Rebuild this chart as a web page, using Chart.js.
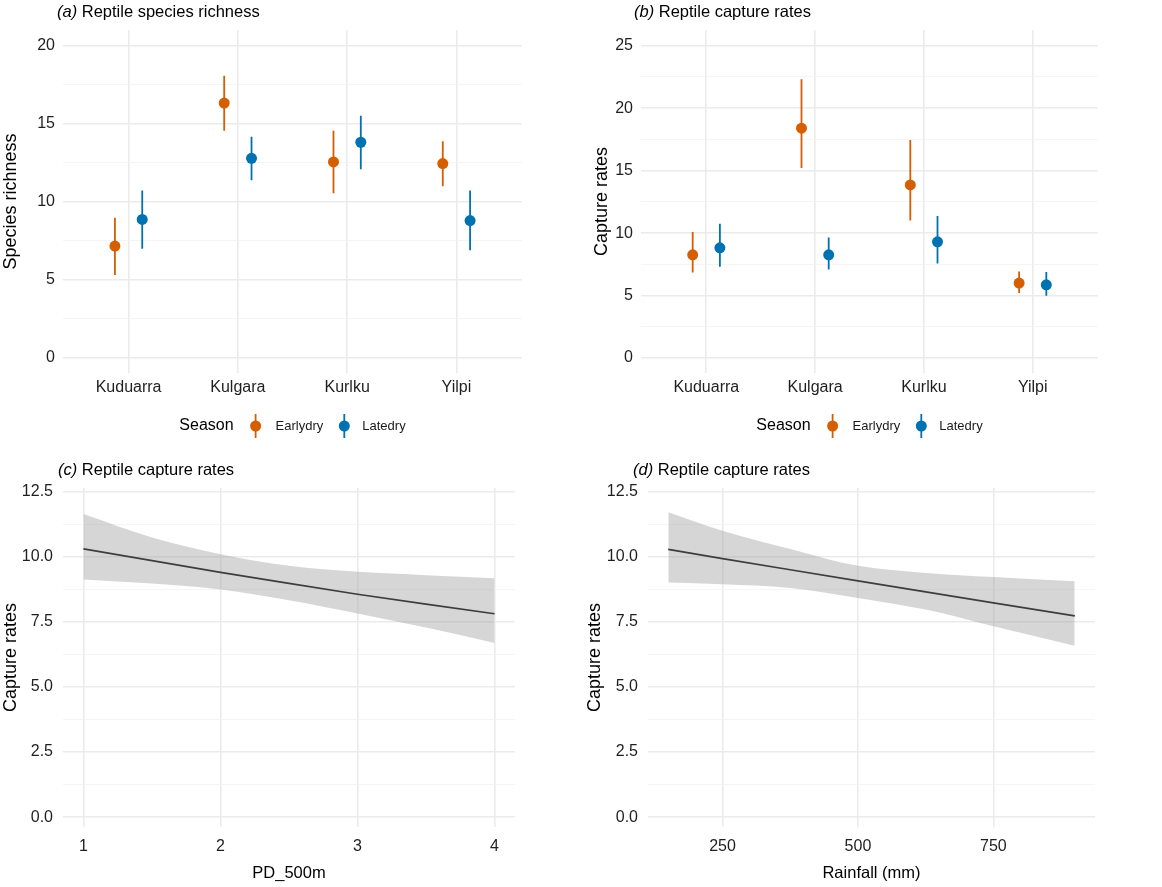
<!DOCTYPE html>
<html>
<head>
<meta charset="utf-8">
<script src="https://cdn.jsdelivr.net/npm/chart.js@4.4.1/dist/chart.umd.min.js"></script>
<style>
  body { margin: 0; background: #fff; }
  #wrap { position: relative; width: 1162px; height: 887px; }
  canvas { position: absolute; }
</style>
</head>
<body>
<div id="wrap">
  <canvas id="chartA" width="580" height="445" style="left:0;top:0"></canvas>
  <canvas id="chartB" width="582" height="445" style="left:580px;top:0"></canvas>
  <canvas id="chartC" width="580" height="442" style="left:0;top:445px"></canvas>
  <canvas id="chartD" width="582" height="442" style="left:580px;top:445px"></canvas>
</div>
<script>
const sites = ['Kuduarra', 'Kulgara', 'Kurlku', 'Yilpi'];
const seasons = ['Earlydry', 'Latedry'];

// (a) species richness, mean and interval
const richEarly = [7.14, 16.31, 12.54, 12.43];
const richEarlyLo = [5.29, 14.54, 10.53, 10.98];
const richEarlyHi = [8.96, 18.06, 14.54, 13.86];
const richLate = [8.85, 12.77, 13.8, 8.78];
const richLateLo = [6.97, 11.36, 12.07, 6.88];
const richLateHi = [10.7, 14.16, 15.5, 10.7];

// (b) capture rates, mean and interval
const capEarly = [8.26, 18.4, 13.86, 6.0];
const capEarlyLo = [6.85, 15.22, 11.0, 5.2];
const capEarlyHi = [10.08, 22.32, 17.46, 6.93];
const capLate = [8.82, 8.26, 9.3, 5.86];
const capLateLo = [7.3, 7.09, 7.57, 4.98];
const capLateHi = [10.74, 9.65, 11.36, 6.88];

// (c) capture rates vs PD_500m
const pdX = [1, 1.5, 2, 2.5, 3, 3.5, 4];
const pdFit = [10.30, 9.85, 9.40, 8.98, 8.56, 8.18, 7.81];
const pdUpper = [11.64, 10.74, 10.10, 9.65, 9.42, 9.29, 9.17];
const pdLower = [9.13, 8.97, 8.74, 8.33, 7.82, 7.28, 6.69];

// (d) capture rates vs rainfall
const rainX = [150, 250, 375, 500, 625, 750, 900];
const rainFit = [10.28, 9.93, 9.50, 9.07, 8.65, 8.23, 7.73];
const rainUpper = [11.71, 11.0, 10.3, 9.65, 9.38, 9.22, 9.06];
const rainLower = [9.01, 8.94, 8.8, 8.42, 7.97, 7.33, 6.58];

const FONT = "'Liberation Sans', Arial, sans-serif";
const ORANGE = '#D55E00';
const BLUE = '#0072B2';
const TICK = '#1f1f1f';
const GRID = '#ebebeb';
const GRID_MINOR = '#f2f2f2';
const DODGE = 0.125;

function isMajor(v, step) {
    return Math.abs(v / step - Math.round(v / step)) < 1e-6;
}

function titlePlugin(letter, text, x, y) {
    return {
        id: 'panelTitle',
        afterDraw(chart) {
            const ctx = chart.ctx;
            ctx.save();
            ctx.fillStyle = '#000';
            ctx.textBaseline = 'middle';
            ctx.textAlign = 'left';
            ctx.font = `italic 16.5px ${FONT}`;
            const lead = '(' + letter + ')';
            ctx.fillText(lead, x, y);
            const w = ctx.measureText(lead).width;
            ctx.font = `16.5px ${FONT}`;
            ctx.fillText(' ' + text, x + w, y);
            ctx.restore();
        }
    };
}

const seasonLegend = {
    id: 'seasonLegend',
    afterDraw(chart) {
        const ctx = chart.ctx;
        const y = 426;
        ctx.save();
        ctx.textBaseline = 'middle';
        ctx.textAlign = 'left';
        ctx.font = `16px ${FONT}`;
        const wTitle = ctx.measureText('Season').width;
        ctx.font = `13px ${FONT}`;
        const w1 = ctx.measureText(seasons[0]).width;
        const w2 = ctx.measureText(seasons[1]).width;
        const total = wTitle + 22 + 20 + w1 + 21 + 18 + w2;
        let x = (chart.chartArea.left + chart.chartArea.right) / 2 - total / 2;
        ctx.fillStyle = '#000';
        ctx.font = `16px ${FONT}`;
        ctx.fillText('Season', x, y);
        x += wTitle + 22;
        [[ORANGE, seasons[0], w1, 20, 21], [BLUE, seasons[1], w2, 18, 0]].forEach(([col, label, w, gap, after]) => {
            ctx.strokeStyle = col;
            ctx.lineWidth = 1.8;
            ctx.beginPath();
            ctx.moveTo(x, y - 12);
            ctx.lineTo(x, y + 12);
            ctx.stroke();
            ctx.fillStyle = col;
            ctx.beginPath();
            ctx.arc(x, y, 5.5, 0, Math.PI * 2);
            ctx.fill();
            ctx.fillStyle = '#1a1a1a';
            ctx.font = `13px ${FONT}`;
            ctx.fillText(label, x + gap, y);
            x += gap + w + after;
        });
        ctx.restore();
    }
};

function yAxis(cfg, step, majorStep, fmt) {
    return {
        min: cfg.yMin,
        max: cfg.yMax,
        afterFit: s => { s.width = cfg.yWidth; },
        border: { display: false },
        grid: {
            drawTicks: false,
            color: c => isMajor(c.tick.value, majorStep) ? GRID : GRID_MINOR,
            lineWidth: c => isMajor(c.tick.value, majorStep) ? 1.6 : 0.8
        },
        ticks: {
            stepSize: step,
            includeBounds: false,
            autoSkip: false,
            padding: cfg.yTickPad,
            color: TICK,
            font: { family: FONT, size: 16 },
            callback: v => isMajor(v, majorStep) ? fmt(v) : ''
        },
        title: {
            display: true,
            text: cfg.yTitle,
            color: '#000',
            font: { family: FONT, size: 18 },
            padding: { top: cfg.yTitlePad, bottom: 0 }
        }
    };
}

function dodgeChart(id, cfg) {
    const pts = (vals, shift) => vals.map((v, i) => ({ x: i + 1 + shift, y: v }));
    const bars = (lo, hi, shift) => lo.flatMap((v, i) => [
        { x: i + 1 + shift, y: v },
        { x: i + 1 + shift, y: hi[i] },
        { x: i + 1 + shift, y: null }
    ]);
    return new Chart(document.getElementById(id), {
        type: 'line',
        data: {
            datasets: [
                { label: seasons[0], data: pts(cfg.early, -DODGE), showLine: false, pointRadius: 5.5, pointBackgroundColor: ORANGE, pointBorderWidth: 0, order: 0 },
                { label: seasons[1], data: pts(cfg.late, DODGE), showLine: false, pointRadius: 5.5, pointBackgroundColor: BLUE, pointBorderWidth: 0, order: 0 },
                { data: bars(cfg.earlyLo, cfg.earlyHi, -DODGE), borderColor: ORANGE, borderWidth: 1.8, pointRadius: 0, spanGaps: false, order: 1 },
                { data: bars(cfg.lateLo, cfg.lateHi, DODGE), borderColor: BLUE, borderWidth: 1.8, pointRadius: 0, spanGaps: false, order: 1 }
            ]
        },
        options: {
            responsive: false,
            animation: false,
            events: [],
            layout: { padding: { top: 30, right: cfg.padRight, bottom: 0, left: 0 } },
            plugins: { legend: { display: false }, tooltip: { enabled: false } },
            scales: {
                x: {
                    type: 'linear',
                    min: 0.4,
                    max: 4.6,
                    afterFit: s => { s.height = 72; },
                    border: { display: false },
                    grid: { drawTicks: false, color: GRID, lineWidth: 1.6 },
                    ticks: {
                        stepSize: 1,
                        includeBounds: false,
                        autoSkip: false,
                        maxRotation: 0,
                        padding: 5,
                        color: TICK,
                        font: { family: FONT, size: 16 },
                        callback: v => sites[v - 1] || ''
                    }
                },
                y: yAxis(cfg, 2.5, 5, v => v)
            }
        },
        plugins: [titlePlugin(cfg.letter, cfg.title, cfg.titleX, 12), seasonLegend]
    });
}

function smoothChart(id, cfg) {
    const pts = ys => cfg.x.map((x, i) => ({ x: x, y: ys[i] }));
    return new Chart(document.getElementById(id), {
        type: 'line',
        data: {
            datasets: [
                { data: pts(cfg.upper), borderColor: 'transparent', borderWidth: 0, pointRadius: 0, fill: '+1', backgroundColor: 'rgba(153,153,153,0.4)', cubicInterpolationMode: 'monotone' },
                { data: pts(cfg.lower), borderColor: 'transparent', borderWidth: 0, pointRadius: 0, fill: false, cubicInterpolationMode: 'monotone' },
                { data: pts(cfg.fit), borderColor: '#000', borderWidth: 1.7, pointRadius: 0, fill: false }
            ]
        },
        options: {
            responsive: false,
            animation: false,
            events: [],
            layout: { padding: { top: 43, right: cfg.padRight, bottom: 0, left: 0 } },
            plugins: { legend: { display: false }, tooltip: { enabled: false } },
            scales: {
                x: {
                    type: 'linear',
                    min: cfg.xMin,
                    max: cfg.xMax,
                    afterFit: s => { s.height = 60; },
                    border: { display: false },
                    grid: { drawTicks: false, color: GRID, lineWidth: 1.6 },
                    ticks: {
                        stepSize: cfg.xStep,
                        includeBounds: false,
                        autoSkip: false,
                        maxRotation: 0,
                        padding: 10,
                        color: TICK,
                        font: { family: FONT, size: 16 }
                    },
                    title: {
                        display: true,
                        text: cfg.xTitle,
                        color: '#000',
                        font: { family: FONT, size: 16.5 },
                        padding: { top: 0, bottom: 4 }
                    }
                },
                y: yAxis(cfg, 1.25, 2.5, v => v.toFixed(1))
            }
        },
        plugins: [titlePlugin(cfg.letter, cfg.title, cfg.titleX, 25)]
    });
}

dodgeChart('chartA', {
    letter: 'a', title: 'Reptile species richness', titleX: 57,
    early: richEarly, earlyLo: richEarlyLo, earlyHi: richEarlyHi,
    late: richLate, lateLo: richLateLo, lateHi: richLateHi,
    yMin: -1, yMax: 21, yWidth: 63, yTickPad: 8, yTitlePad: 0, padRight: 58,
    yTitle: 'Species richness'
});

dodgeChart('chartB', {
    letter: 'b', title: 'Reptile capture rates', titleX: 54,
    early: capEarly, earlyLo: capEarlyLo, earlyHi: capEarlyHi,
    late: capLate, lateLo: capLateLo, lateHi: capLateHi,
    yMin: -1.2, yMax: 26.26, yWidth: 61, yTickPad: 8, yTitlePad: 11, padRight: 64,
    yTitle: 'Capture rates'
});

smoothChart('chartC', {
    letter: 'c', title: 'Reptile capture rates', titleX: 58,
    x: pdX, fit: pdFit, upper: pdUpper, lower: pdLower,
    xMin: 0.85, xMax: 4.15, xStep: 1, xTitle: 'PD_500m',
    yMin: -0.38, yMax: 12.64, yWidth: 63, yTickPad: 10, yTitlePad: 0, padRight: 65,
    yTitle: 'Capture rates'
});

smoothChart('chartD', {
    letter: 'd', title: 'Reptile capture rates', titleX: 53,
    x: rainX, fit: rainFit, upper: rainUpper, lower: rainLower,
    xMin: 112.5, xMax: 937.5, xStep: 250, xTitle: 'Rainfall (mm)',
    yMin: -0.38, yMax: 12.64, yWidth: 68, yTickPad: 10, yTitlePad: 4, padRight: 67,
    yTitle: 'Capture rates'
});
</script>
</body>
</html>
